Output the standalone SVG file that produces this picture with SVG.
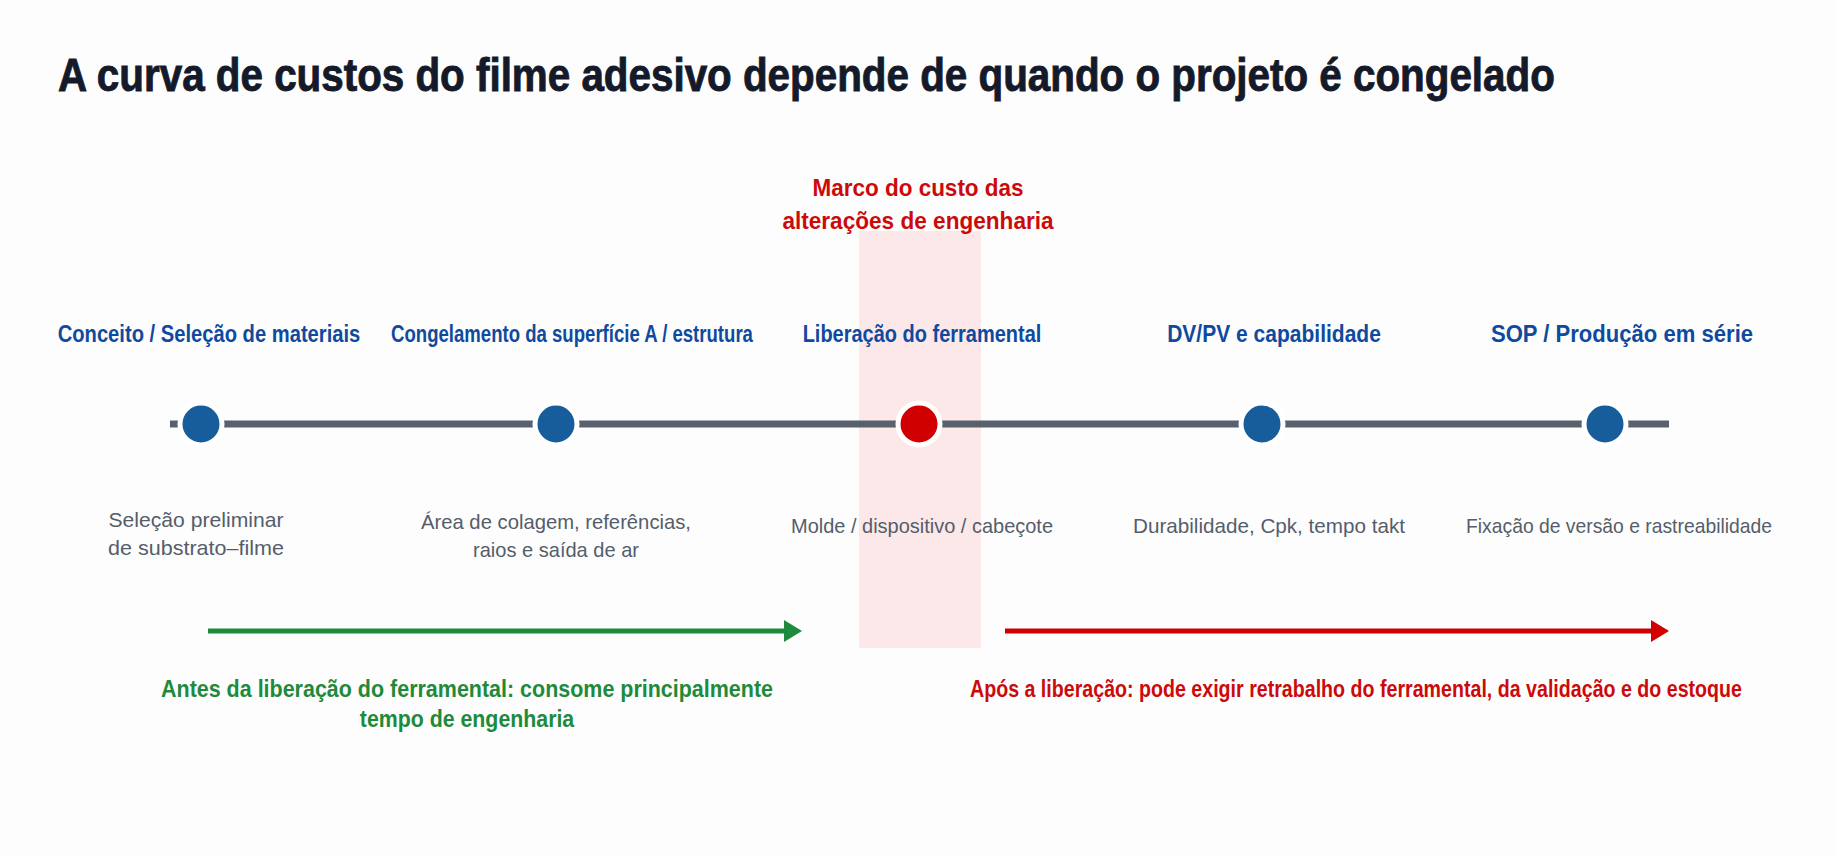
<svg xmlns="http://www.w3.org/2000/svg" width="1836" height="857" viewBox="0 0 1836 857">
<style>
text{font-family:"Liberation Sans",Arial,sans-serif}
.title{font-size:46px;font-weight:700;fill:#141a2a;stroke:#141a2a;stroke-width:0.9}
.stage{font-size:24px;font-weight:700;fill:#0f4a9e;text-anchor:middle}
.desc{font-size:21px;fill:#555d6b;text-anchor:middle}
.marco{font-size:23px;font-weight:700;fill:#cc0a0a;text-anchor:middle}
.green{font-size:23px;font-weight:700;fill:#1e8a3c;text-anchor:middle}
.redt{font-size:23px;font-weight:700;fill:#cc0a0a;text-anchor:middle}
.dot{fill:#175d9c;stroke:#ffffff;stroke-width:5}
.dotred{fill:#d00000;stroke:#ffffff;stroke-width:5}
</style>
<defs>
<marker id="ag" markerUnits="userSpaceOnUse" markerWidth="20" markerHeight="22" refX="2" refY="11" orient="auto"><path d="M0,0 L18,11 L0,22 Z" fill="#1e8a3c"/></marker>
<marker id="ar" markerUnits="userSpaceOnUse" markerWidth="20" markerHeight="22" refX="2" refY="11" orient="auto"><path d="M0,0 L18,11 L0,22 Z" fill="#d00000"/></marker>
</defs>
<rect width="1836" height="857" fill="#fdfdfd"/>
<text class="title" transform="translate(58,91) scale(0.85,1)" x="0" y="0" textLength="1761" lengthAdjust="spacingAndGlyphs">A curva de custos do filme adesivo depende de quando o projeto é congelado</text>
<g id="band"><rect x="859" y="231" width="122" height="417" fill="#fde8e9"/></g>
<g id="marco">
<text class="marco" transform="translate(918,196) scale(0.8,1)" textLength="264" lengthAdjust="spacingAndGlyphs">Marco do custo das</text>
<text class="marco" transform="translate(918,229) scale(0.8,1)" textLength="339" lengthAdjust="spacingAndGlyphs">alterações de engenharia</text>
</g>
<g id="connectors">
<line x1="170" y1="424" x2="1669" y2="424" stroke="#59616e" stroke-width="7"/>
<line x1="208" y1="631" x2="786" y2="631" stroke="#1e8a3c" stroke-width="5" marker-end="url(#ag)"/>
<line x1="1005" y1="631" x2="1653" y2="631" stroke="#d00000" stroke-width="5" marker-end="url(#ar)"/>
</g>
<g id="n1">
<circle class="dot" cx="201" cy="424" r="21"/>
<text class="stage" transform="translate(209,342) scale(0.78,1)" textLength="388" lengthAdjust="spacingAndGlyphs">Conceito / Seleção de materiais</text>
<text class="desc" x="196" y="527" textLength="175" lengthAdjust="spacingAndGlyphs">Seleção preliminar</text>
<text class="desc" x="196" y="555" textLength="176" lengthAdjust="spacingAndGlyphs">de substrato–filme</text>
</g>
<g id="n2">
<circle class="dot" cx="556" cy="424" r="21"/>
<text class="stage" transform="translate(572,342) scale(0.78,1)" textLength="464" lengthAdjust="spacingAndGlyphs">Congelamento da superfície A / estrutura</text>
<text class="desc" x="556" y="529" textLength="270" lengthAdjust="spacingAndGlyphs">Área de colagem, referências,</text>
<text class="desc" x="556" y="557" textLength="166" lengthAdjust="spacingAndGlyphs">raios e saída de ar</text>
</g>
<g id="n3">
<circle class="dotred" cx="919" cy="424" r="21"/>
<text class="stage" transform="translate(922,342) scale(0.78,1)" textLength="306" lengthAdjust="spacingAndGlyphs">Liberação do ferramental</text>
<text class="desc" x="922" y="533" textLength="262" lengthAdjust="spacingAndGlyphs">Molde / dispositivo / cabeçote</text>
</g>
<g id="n4">
<circle class="dot" cx="1262" cy="424" r="21"/>
<text class="stage" transform="translate(1274,342) scale(0.78,1)" textLength="274" lengthAdjust="spacingAndGlyphs">DV/PV e capabilidade</text>
<text class="desc" x="1269" y="533" textLength="272" lengthAdjust="spacingAndGlyphs">Durabilidade, Cpk, tempo takt</text>
</g>
<g id="n5">
<circle class="dot" cx="1605" cy="424" r="21"/>
<text class="stage" transform="translate(1622,342) scale(0.78,1)" textLength="336" lengthAdjust="spacingAndGlyphs">SOP / Produção em série</text>
<text class="desc" x="1619" y="533" textLength="306" lengthAdjust="spacingAndGlyphs">Fixação de versão e rastreabilidade</text>
</g>
<g id="before">
<text class="green" transform="translate(467,697) scale(0.8,1)" textLength="765" lengthAdjust="spacingAndGlyphs">Antes da liberação do ferramental: consome principalmente</text>
<text class="green" transform="translate(467,727) scale(0.8,1)" textLength="268" lengthAdjust="spacingAndGlyphs">tempo de engenharia</text>
</g>
<g id="after">
<text class="redt" transform="translate(1356,697) scale(0.8,1)" textLength="965" lengthAdjust="spacingAndGlyphs">Após a liberação: pode exigir retrabalho do ferramental, da validação e do estoque</text>
</g>
</svg>
